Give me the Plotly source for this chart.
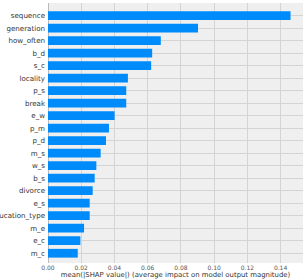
import plotly.graph_objects as go

features = ["sequence", "generation", "how_often", "b_d", "s_c", "locality", "p_s",
            "break", "e_w", "p_m", "p_d", "m_s", "w_s", "b_s", "divorce", "e_s",
            "education_type", "m_e", "e_c", "m_c"]
values = [0.146, 0.0903, 0.0679, 0.0627, 0.0621, 0.0481, 0.0471, 0.0471, 0.0401,
          0.0367, 0.0349, 0.0317, 0.0291, 0.0281, 0.0269, 0.0251, 0.0251, 0.0217,
          0.0195, 0.0179]
x_ticks = [0.00, 0.02, 0.04, 0.06, 0.08, 0.10, 0.12, 0.14]
x_tick_labels = ["0.00", "0.02", "0.04", "0.06", "0.08", "0.10", "0.12", "0.14"]

n = len(features)
ypos = list(range(n - 1, -1, -1))

fig = go.Figure(go.Bar(
    x=values, y=ypos, orientation="h",
    marker=dict(color="#008bfb", line=dict(width=0)),
    width=0.7,
))
fig.update_layout(
    width=306, height=280,
    margin=dict(l=48, r=3, t=3, b=17),
    plot_bgcolor="#efefef", paper_bgcolor="white",
    font=dict(family="DejaVu Sans", color="#333333"),
    showlegend=False,
    bargap=0.3,
)
fig.update_xaxes(
    range=[0, 0.1535], tickvals=x_ticks, ticktext=x_tick_labels,
    showgrid=True, gridcolor="#d4d4d4", gridwidth=1,
    zeroline=True, zerolinecolor="#bbbbbb", zerolinewidth=1,
    tickfont=dict(size=6, color="#555555"), ticks="", ticklen=0,
    title=dict(text="mean(|SHAP value|) (average impact on model output magnitude)",
               font=dict(size=6.9, color="#333333"), standoff=1),
    showline=False, automargin=False,
)
fig.update_yaxes(
    range=[-0.78, n], tickvals=ypos, ticktext=features,
    showgrid=True, gridcolor="#d4d4d4", gridwidth=1,
    tickfont=dict(size=7.1, color="#333333"), ticks="", ticklabelstandoff=2,
    zeroline=False, showline=False, automargin=False,
)
fig.write_html("out.html")
